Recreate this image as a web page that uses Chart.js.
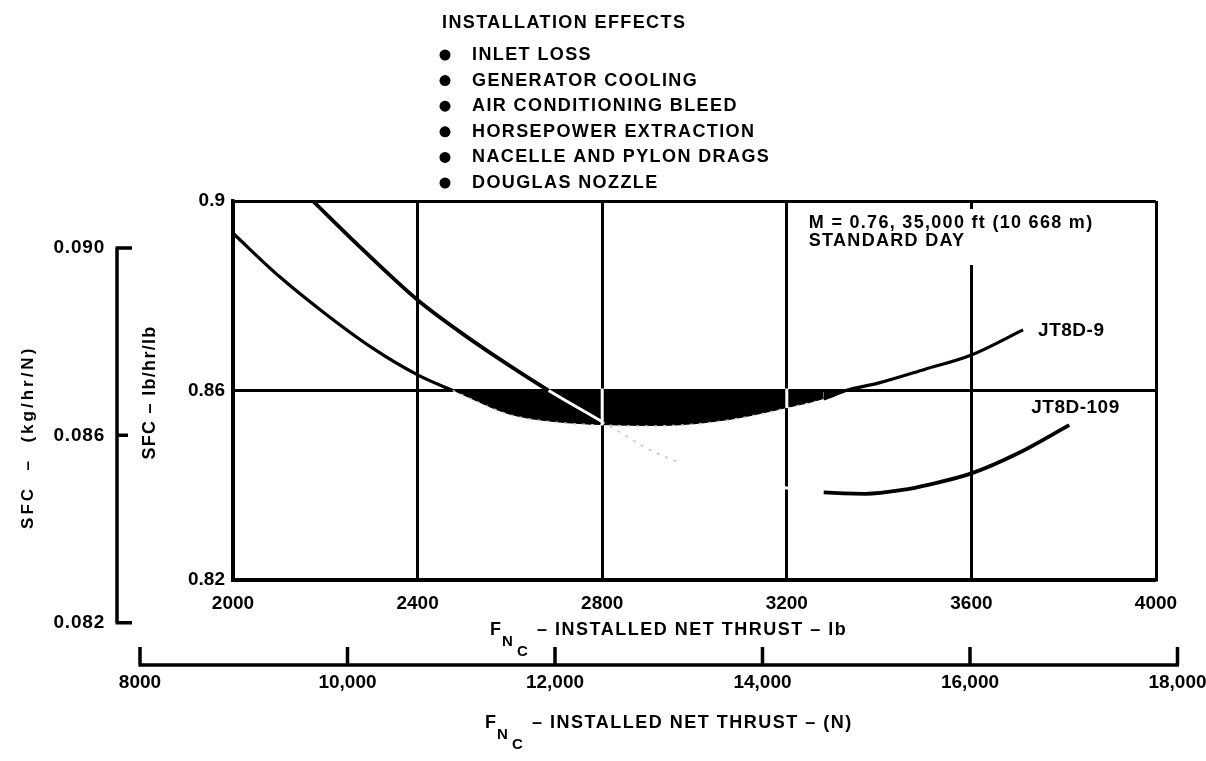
<!DOCTYPE html>
<html>
<head>
<meta charset="utf-8">
<script src="https://cdn.jsdelivr.net/npm/chart.js@4.4.0/dist/chart.umd.min.js"></script>
<style>
  body { margin: 0; background: #fff; }
  canvas { display: block; }
</style>
</head>
<body>
<canvas id="sfc-chart" width="1206" height="761"></canvas>
<script>
// main scales: installed net thrust (lb) and SFC (lb/hr/lb)
const xTicks = [2000, 2400, 2800, 3200, 3600, 4000];
const yTicks = [0.82, 0.86, 0.90];
const yTickLabels = ['0.82', '0.86', '0.9'];

// secondary scales, metric
const newtonTicks = [8000, 10000, 12000, 14000, 16000, 18000];
const newtonLabels = ['8000', '10,000', '12,000', '14,000', '16,000', '18,000'];
const kgTicks = [0.090, 0.086, 0.082];
const kgLabels = ['0.090', '0.086', '0.082'];

// JT8D-9 curve
const jt9Thrust = [2000, 2100, 2200, 2300, 2400, 2476, 2600, 2700, 2800, 2900, 3000, 3100, 3200, 3280, 3328, 3400, 3500, 3600, 3712];
const jt9Sfc = [0.8932, 0.8841, 0.8762, 0.8691, 0.8633, 0.8600, 0.8549, 0.8533, 0.8527, 0.8525, 0.8529, 0.8542, 0.8563, 0.8582, 0.8600, 0.8616, 0.8645, 0.8675, 0.8728];

// JT8D-109 curve (part of it is hidden behind the shaded band)
const jt109Thrust = [2173, 2275, 2400, 2500, 2600, 2684, 2800, 2850, 2900, 2973, 3100, 3200, 3280, 3371, 3450, 3511, 3600, 3700, 3812];
const jt109Sfc = [0.9000, 0.8903, 0.8791, 0.8718, 0.8652, 0.8600, 0.8534, 0.8505, 0.8476, 0.8447, 0.8412, 0.8394, 0.8385, 0.8382, 0.8390, 0.8402, 0.8425, 0.8467, 0.8527];

const effects = ['INLET LOSS', 'GENERATOR COOLING', 'AIR CONDITIONING BLEED', 'HORSEPOWER EXTRACTION', 'NACELLE AND PYLON DRAGS', 'DOUGLAS NOZZLE'];

const SFC_LIMIT = 0.86;
const N_TO_LB = 0.224809;   // 1 N in lb
const KG_TO_LB = 9.89;      // kg/hr/N scale as drawn on the original
const SHADE_END = 2800;     // JT8D-109 leaves the shaded band
const FAINT_END = 2973;     // end of the faint dotted part
const SHOW_AGAIN = 3280;    // JT8D-109 visible again

const FONT = '"Liberation Sans", Arial, sans-serif';
Chart.defaults.font.family = FONT;
Chart.defaults.color = '#000';

function text(ctx, s, x, y, size, align, spacing) {
  ctx.font = 'bold ' + size + 'px ' + FONT;
  ctx.letterSpacing = (spacing || 0) + 'px';
  ctx.textAlign = align || 'left';
  ctx.textBaseline = 'middle';
  ctx.fillText(s, x, y);
  ctx.letterSpacing = '0px';
}

function thrustTitle(ctx, x, y, rest) {
  text(ctx, 'F', x, y, 18, 'left', 1);
  text(ctx, 'N', x + 12, y + 12, 15, 'left', 0);
  text(ctx, 'C', x + 27, y + 22, 15, 'left', 0);
  text(ctx, rest, x + 47, y, 18, 'left', 1.5);
}

// segment helpers
const below = c => c.p0.parsed.y <= SFC_LIMIT + 1e-9 && c.p1.parsed.y <= SFC_LIMIT + 1e-9;
const jt9Faint = c => below(c) && c.p1.parsed.x <= SHOW_AGAIN;
const jt109Faint = c => c.p0.parsed.x >= SHADE_END && c.p1.parsed.x <= FAINT_END;
const jt109Hidden = c => below(c) && c.p1.parsed.x <= SHOW_AGAIN && !jt109Faint(c);

const overlay = {
  id: 'overlay',
  afterDatasetsDraw(chart) {
    const { ctx, scales: { x, y } } = chart;
    // white slits where the grid lines cross the shaded band
    ctx.save();
    ctx.strokeStyle = '#fff';
    ctx.lineWidth = 3;
    jt9Thrust.forEach((t, i) => {
      if (xTicks.includes(t) && jt9Sfc[i] < SFC_LIMIT) {
        ctx.beginPath();
        ctx.moveTo(x.getPixelForValue(t), y.getPixelForValue(SFC_LIMIT) - 2);
        ctx.lineTo(x.getPixelForValue(t), y.getPixelForValue(jt9Sfc[i]));
        ctx.stroke();
      }
    });
    ctx.restore();
  },
  afterDraw(chart) {
    const { ctx, chartArea, scales: { x, y } } = chart;
    ctx.save();
    ctx.fillStyle = '#000';
    ctx.strokeStyle = '#000';

    // installation effects list
    text(ctx, 'INSTALLATION EFFECTS', 442, 23, 18, 'left', 1.4);
    effects.forEach((s, i) => {
      const ry = 55 + i * 25.6;
      ctx.beginPath();
      ctx.arc(445, ry, 5.5, 0, Math.PI * 2);
      ctx.fill();
      text(ctx, s, 472, ry, 18, 'left', 1.4);
    });

    // flight condition note, with a white box over the grid line
    const nx0 = x.getPixelForValue(3200) + 22;
    const ny0 = chartArea.top + 22;
    ctx.fillStyle = '#fff';
    ctx.fillRect(nx0 - 6, ny0 - 14, 345, 56);
    ctx.fillStyle = '#000';
    text(ctx, 'M = 0.76, 35,000 ft (10 668 m)', nx0, ny0, 18, 'left', 1.3);
    text(ctx, 'STANDARD DAY', nx0, ny0 + 18, 18, 'left', 1.3);

    // curve labels
    const e9x = x.getPixelForValue(jt9Thrust[jt9Thrust.length - 1]);
    const e9y = y.getPixelForValue(jt9Sfc[jt9Sfc.length - 1]);
    text(ctx, 'JT8D-9', e9x + 15, e9y + 1, 19, 'left', 0.5);
    const e109x = x.getPixelForValue(jt109Thrust[jt109Thrust.length - 1]);
    const e109y = y.getPixelForValue(jt109Sfc[jt109Sfc.length - 1]);
    text(ctx, 'JT8D-109', e109x - 38, e109y - 17, 19, 'left', 0.5);

    // SFC lb/hr/lb title
    ctx.save();
    ctx.translate(150, y.getPixelForValue(SFC_LIMIT) + 2);
    ctx.rotate(-Math.PI / 2);
    text(ctx, 'SFC \u2013 lb/hr/lb', 0, 0, 18, 'center', 1.3);
    ctx.restore();

    // kg/hr/N axis
    const ky = v => y.getPixelForValue(v * KG_TO_LB);
    const kx = 117;
    ctx.lineWidth = 3.5;
    ctx.beginPath();
    ctx.moveTo(kx, ky(kgTicks[0]));
    ctx.lineTo(kx, ky(kgTicks[kgTicks.length - 1]));
    kgTicks.forEach((v, i) => {
      const len = (i === 0 || i === kgTicks.length - 1) ? 15 : 11;
      ctx.moveTo(kx - 1.5, ky(v));
      ctx.lineTo(kx + len, ky(v));
    });
    ctx.stroke();
    kgTicks.forEach((v, i) => text(ctx, kgLabels[i], kx - 12, ky(v), 19, 'right', 0.8));
    ctx.save();
    ctx.translate(28, ky(kgTicks[1]) + 2);
    ctx.rotate(-Math.PI / 2);
    text(ctx, 'SFC  \u2013  (kg/hr/N)', 0, 0, 17, 'center', 3);
    ctx.restore();

    // thrust titles and newton axis
    thrustTitle(ctx, 490, 630, '\u2013 INSTALLED NET THRUST \u2013 lb');
    const nx = v => x.getPixelForValue(v * N_TO_LB);
    const ay = 665;
    ctx.beginPath();
    ctx.moveTo(nx(newtonTicks[0]) - 1.5, ay);
    ctx.lineTo(nx(newtonTicks[newtonTicks.length - 1]) + 1.5, ay);
    newtonTicks.forEach(v => {
      ctx.moveTo(nx(v), ay);
      ctx.lineTo(nx(v), ay - 18);
    });
    ctx.stroke();
    newtonTicks.forEach((v, i) => text(ctx, newtonLabels[i], nx(v), ay + 18, 19, 'center', 0));
    thrustTitle(ctx, 485, 723, '\u2013 INSTALLED NET THRUST \u2013 (N)');

    ctx.restore();
  }
};

const gridStyle = { color: '#000', lineWidth: 3, drawTicks: false };
const borderStyle = { color: '#000', width: 3.5 };
const tickFont = { size: 19, weight: 'bold' };

const ctx = document.getElementById('sfc-chart').getContext('2d');
new Chart(ctx, {
  type: 'line',
  data: {
    datasets: [{
      label: 'JT8D-109',
      order: 1,
      data: jt109Thrust.map((t, i) => ({ x: t, y: jt109Sfc[i] })),
      borderColor: '#000',
      borderWidth: 3.8,
      pointRadius: 0,
      fill: false,
      cubicInterpolationMode: 'monotone',
      segment: {
        borderColor: c => jt109Faint(c) ? '#c4c4c4' : (jt109Hidden(c) ? '#fff' : '#000'),
        borderDash: c => jt109Faint(c) ? [3, 6] : [],
        borderWidth: c => jt109Faint(c) ? 1.5 : (jt109Hidden(c) ? 3 : 3.8)
      }
    }, {
      label: 'JT8D-9',
      order: 2,
      data: jt9Thrust.map((t, i) => ({ x: t, y: jt9Sfc[i] })),
      borderColor: '#000',
      borderWidth: 3.2,
      pointRadius: 0,
      cubicInterpolationMode: 'monotone',
      fill: { target: { value: SFC_LIMIT }, above: 'rgba(0,0,0,0)', below: '#000' },
      segment: {
        borderColor: c => jt9Faint(c) ? '#c4c4c4' : '#000',
        borderDash: c => jt9Faint(c) ? [3, 6] : [],
        borderWidth: c => jt9Faint(c) ? 1.5 : 3.2
      }
    }]
  },
  options: {
    responsive: false,
    animation: false,
    layout: { padding: { left: 136, right: 50, top: 201, bottom: 0 } },
    plugins: { legend: { display: false }, tooltip: { enabled: false } },
    scales: {
      x: {
        type: 'linear',
        min: 2000,
        max: 4000,
        afterBuildTicks: s => { s.ticks = xTicks.map(v => ({ value: v })); },
        afterFit: s => { s.height = 181; },
        grid: gridStyle,
        border: borderStyle,
        ticks: { padding: 12, font: tickFont, color: '#000', maxRotation: 0, autoSkip: false, callback: v => String(v) }
      },
      y: {
        min: 0.82,
        max: 0.90,
        afterBuildTicks: s => { s.ticks = yTicks.map(v => ({ value: v })); },
        afterFit: s => { s.width = 97; },
        grid: gridStyle,
        border: borderStyle,
        ticks: { padding: 8, font: tickFont, color: '#000', callback: (v, i) => yTickLabels[i] }
      }
    }
  },
  plugins: [overlay]
});
</script>
</body>
</html>
